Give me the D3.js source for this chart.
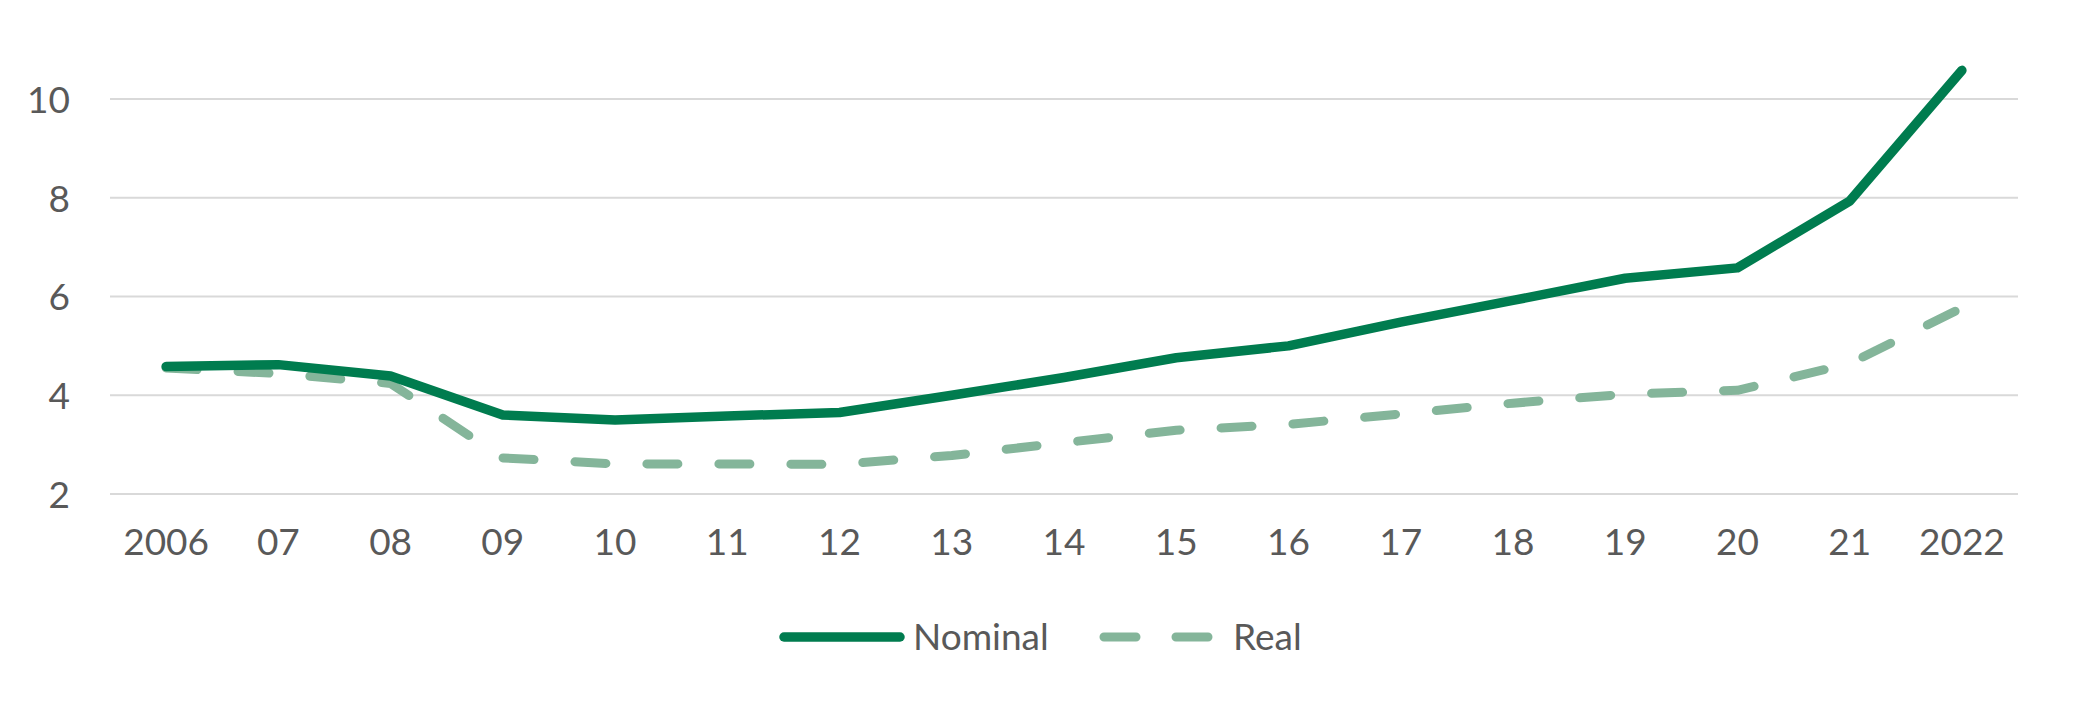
<!DOCTYPE html>
<html>
<head>
<meta charset="utf-8">
<script src="https://cdn.jsdelivr.net/npm/d3@7"></script>
<style>
  body { margin: 0; background: #fff; }
  text { font-family: Lato, "Open Sans", sans-serif; fill: #595959; }
</style>
</head>
<body>
<div id="chart"></div>
<script>
var years = ["2006", "07", "08", "09", "10", "11", "12", "13", "14", "15", "16", "17", "18", "19", "20", "21", "2022"];
var nominal = [4.58, 4.62, 4.39, 3.6, 3.5, 3.58, 3.65, 4.0, 4.36, 4.76, 5.0, 5.48, 5.92, 6.37, 6.58, 7.93, 10.58];
var real = [4.55, 4.44, 4.24, 2.73, 2.61, 2.61, 2.6, 2.78, 3.04, 3.29, 3.41, 3.62, 3.84, 4.02, 4.1, 4.64, 5.77];
var y_ticks = [2, 4, 6, 8, 10];

var width = 2076, height = 710;
var margin = {left: 110, right: 58, top: 99, bottom: 216};

var svg = d3.select("#chart")
    .append("svg")
    .attr("width", width)
    .attr("height", height);

var x = d3.scaleBand()
    .domain(years)
    .range([margin.left, width - margin.right]);

var y = d3.scaleLinear()
    .domain([2, 10])
    .range([height - margin.bottom, margin.top]);

// gridlines
svg.append("g").selectAll("line")
    .data(y_ticks)
    .enter()
    .append("line")
    .attr("x1", margin.left)
    .attr("x2", width - margin.right)
    .attr("y1", function(d) { return y(d); })
    .attr("y2", function(d) { return y(d); })
    .attr("stroke", "#d9d9d9")
    .attr("stroke-width", 2.2);

var y_axis = svg.append("g")
    .attr("transform", `translate(${margin.left - 40}, 0)`)
    .call(d3.axisLeft(y).tickValues(y_ticks).tickSize(0).tickPadding(0));
y_axis.select(".domain").remove();
y_axis.selectAll("text").style("font-size", "37px").attr("dy", "0.36em");

var x_axis = svg.append("g")
    .attr("transform", `translate(0, ${y(2)})`)
    .call(d3.axisBottom(x).tickSize(0).tickPadding(35));
x_axis.select(".domain").remove();
x_axis.selectAll("text").style("font-size", "37px");

var line = d3.line()
    .x(function(d, i) { return x(years[i]) + x.bandwidth() / 2; })
    .y(function(d) { return y(d); });

svg.append("path")
    .datum(real)
    .attr("d", line)
    .attr("fill", "none")
    .attr("stroke", "#84b59a")
    .attr("stroke-width", 9)
    .attr("stroke-linecap", "round")
    .attr("stroke-linejoin", "round")
    .attr("stroke-dasharray", "31,41");

svg.append("path")
    .datum(nominal)
    .attr("d", line)
    .attr("fill", "none")
    .attr("stroke", "#007c4f")
    .attr("stroke-width", 9.5)
    .attr("stroke-linecap", "round")
    .attr("stroke-linejoin", "round");

// legend
var legend = svg.append("g").attr("transform", "translate(0, 637)");

legend.append("line")
    .attr("x1", 784).attr("x2", 900)
    .attr("stroke", "#007c4f")
    .attr("stroke-width", 9.5)
    .attr("stroke-linecap", "round");
legend.append("text")
    .attr("x", 913).attr("dy", "0.36em")
    .style("font-size", "37px")
    .text("Nominal");

legend.append("line")
    .attr("x1", 1104).attr("x2", 1208)
    .attr("stroke", "#84b59a")
    .attr("stroke-width", 9)
    .attr("stroke-linecap", "round")
    .attr("stroke-dasharray", "32,40");
legend.append("text")
    .attr("x", 1233).attr("dy", "0.36em")
    .style("font-size", "37px")
    .text("Real");
</script>
</body>
</html>
